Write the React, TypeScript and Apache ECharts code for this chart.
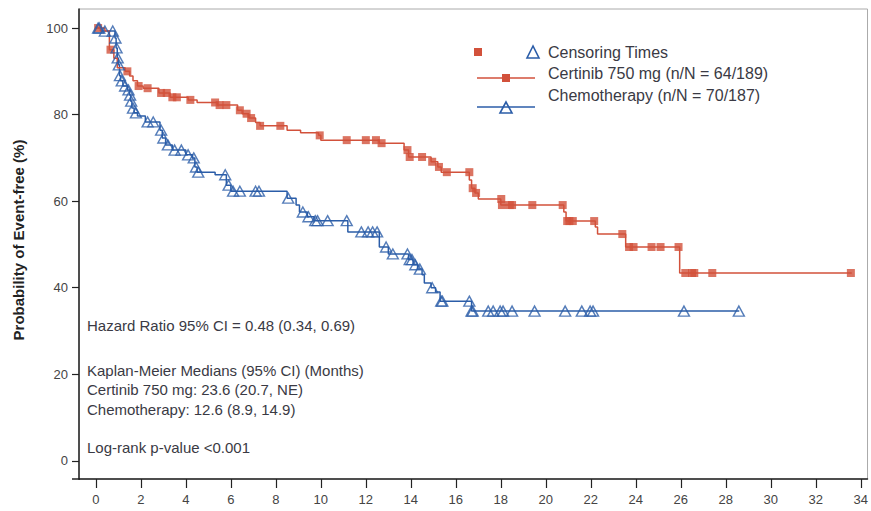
import React, { useEffect, useRef } from "react";
import * as echarts from "echarts";

// Kaplan-Meier step knots: [months, survival %] (value after the step)
const certinibSteps: [number, number][] = [
  [0, 100], [0.4, 99.3], [0.6, 95], [0.8, 93], [0.95, 90.8], [1.3, 90], [1.5, 88.9],
  [1.65, 87.8], [1.85, 86.6], [2.1, 86.1], [2.8, 85.0], [3.3, 84.0], [4.1, 83.4],
  [4.5, 82.8], [5.4, 82.2], [6.3, 81], [6.5, 80.2], [6.8, 79.2], [7.1, 78.2], [7.3, 77.4],
  [8.5, 76.4], [9.1, 75.8], [9.9, 75.2], [10.0, 74.1], [12.6, 73.4], [13.7, 71.8],
  [13.9, 70.2], [14.9, 69.1], [15.2, 67.9], [15.35, 66.7], [16.6, 64.9], [16.7, 63],
  [16.85, 61.9], [17.0, 60.5], [18.0, 59.1], [20.8, 57.5], [20.9, 55.4], [22.2, 54],
  [22.3, 52.4], [23.55, 49.4], [25.95, 43.4], [33.6, 43.4],
];

const chemoSteps: [number, number][] = [
  [0, 100], [0.2, 99.3], [0.85, 97.7], [0.9, 95.4], [0.95, 93.1], [1.0, 91.5], [1.05, 89],
  [1.1, 87.8], [1.2, 86.6], [1.4, 85.7], [1.5, 84.5], [1.55, 83.1], [1.6, 81.5], [1.7, 80.4],
  [1.85, 79.7], [2.2, 78.3], [2.85, 76.4], [2.95, 74.6], [3.1, 73], [3.4, 71.8], [4.0, 70.7],
  [4.3, 70.0], [4.4, 67.9], [4.5, 66.7], [5.3, 66.1], [5.8, 63.7], [6.0, 62.3], [8.5, 60.7],
  [8.9, 59.1], [9.05, 57.5], [9.4, 56.4], [9.7, 55.5], [11.2, 52.9], [12.6, 49.4],
  [13.0, 47.8], [13.9, 46.5], [14.1, 45.3], [14.3, 44.3], [14.5, 43], [14.6, 41.1],
  [14.9, 40.0], [15.1, 39.0], [15.3, 36.9], [16.7, 34.6], [28.6, 34.6],
];

// Censoring marks: [months, survival %]
const certinibCensored: [number, number][] = [
  [0.1, 100], [0.65, 95], [1.4, 90], [1.9, 86.6], [2.3, 86.1], [2.9, 85.0], [3.15, 85.0],
  [3.4, 84.0], [3.6, 84.0], [4.2, 83.4], [5.3, 82.8], [5.5, 82.2], [5.8, 82.2], [6.4, 81],
  [6.7, 80.2], [6.9, 79.2], [7.3, 77.4], [8.2, 77.4], [9.95, 75.2], [11.15, 74.1],
  [12.0, 74.1], [12.45, 74.1], [12.7, 73.4], [13.85, 71.8], [13.95, 70.2], [14.5, 70.2],
  [14.95, 69.1], [15.25, 67.9], [15.6, 66.7], [16.6, 66.7], [16.75, 63], [16.9, 61.9],
  [18.02, 60.5], [18.05, 59.1], [18.4, 59.1], [18.5, 59.1], [19.4, 59.1], [20.75, 59.1],
  [20.95, 55.4], [21.05, 55.4], [21.2, 55.4], [22.15, 55.4], [23.4, 52.4], [23.7, 49.4],
  [23.9, 49.4], [24.7, 49.4], [25.1, 49.4], [25.9, 49.4], [26.2, 43.4], [26.5, 43.4],
  [26.6, 43.4], [27.4, 43.4], [33.56, 43.4],
];

const chemoCensored: [number, number][] = [
  [0.1, 100], [0.15, 100], [0.4, 99.3], [0.75, 99.3], [0.87, 97.7], [0.92, 95.4],
  [0.97, 93.1], [1.02, 91.5], [1.07, 89], [1.15, 87.8], [1.3, 86.6], [1.45, 85.7],
  [1.52, 84.5], [1.57, 83.1], [1.65, 81.5], [1.78, 80.4], [2.3, 78.3], [2.55, 78.3],
  [2.9, 76.4], [3.0, 74.6], [3.2, 73], [3.5, 71.8], [3.8, 71.8], [4.1, 70.7], [4.35, 70.0],
  [4.45, 67.9], [4.55, 66.7], [5.75, 66.1], [5.9, 63.7], [6.1, 62.3], [6.4, 62.3],
  [7.1, 62.3], [7.25, 62.3], [8.55, 60.7], [9.2, 57.5], [9.45, 56.4], [9.75, 55.5],
  [9.85, 55.5], [10.3, 55.5], [11.15, 55.5], [11.8, 52.9], [12.1, 52.9], [12.3, 52.9],
  [12.5, 52.9], [12.9, 49.4], [13.2, 47.8], [13.85, 47.8], [13.95, 46.5], [14.05, 46.5],
  [14.2, 45.3], [14.4, 44.3], [14.95, 40.0], [15.35, 36.9], [15.4, 36.9], [16.6, 36.9],
  [16.7, 34.6], [16.75, 34.6], [17.44, 34.6], [17.66, 34.6], [17.97, 34.6], [18.1, 34.6],
  [18.5, 34.6], [19.5, 34.6], [20.86, 34.6], [21.6, 34.6], [21.97, 34.6], [22.1, 34.6],
  [26.14, 34.6], [28.58, 34.6],
];

const xTicks = [0, 2, 4, 6, 8, 10, 12, 14, 16, 18, 20, 22, 24, 26, 28, 30, 32, 34];
const yTicks = [0, 20, 40, 60, 80, 100];

const legendLabels = [
  "Censoring Times",
  "Certinib 750 mg (n/N = 64/189)",
  "Chemotherapy (n/N = 70/187)",
];
const annotationLines = [
  "Hazard Ratio 95% CI = 0.48 (0.34, 0.69)",
  "Kaplan-Meier Medians (95% CI) (Months)",
  "Certinib 750 mg: 23.6 (20.7, NE)",
  "Chemotherapy: 12.6 (8.9, 14.9)",
  "Log-rank p-value <0.001",
];
const yAxisTitle = "Probability of Event-free (%)";

const RED = "#D2513B";
const BLUE = "#2B5DA8";
const TEXT = "#3a3a44";
const FONT = "'Liberation Sans', Arial, sans-serif";

export default function App() {
  const ref = useRef<HTMLDivElement>(null);
  useEffect(() => {
    if (!ref.current) return;
    const chart = echarts.init(ref.current, null, { renderer: "svg" });
    const annY = [325, 370, 389, 409, 447];
    const graphic: any[] = [
      {
        type: "text",
        x: 18,
        y: 240,
        rotation: Math.PI / 2,
        style: {
          text: yAxisTitle,
          fill: "#222",
          font: `bold 15px ${FONT}`,
          align: "center",
          verticalAlign: "middle",
        },
      },
      // short extension of the x-axis line left of the y-axis
      { type: "line", shape: { x1: 72, y1: 479, x2: 80, y2: 479 }, style: { stroke: "#222", lineWidth: 1.5 } },
      ...annotationLines.map((t, i) => ({
        type: "text",
        x: 87,
        y: annY[i],
        style: { text: t, fill: TEXT, font: `15px ${FONT}`, align: "left", verticalAlign: "middle" },
      })),
      // legend
      { type: "rect", shape: { x: 474, y: 48, width: 8, height: 8 }, style: { fill: RED } },
      {
        type: "polygon",
        shape: { points: [[533, 46], [527, 58], [539, 58]] },
        style: { fill: "none", stroke: BLUE, lineWidth: 1.6 },
      },
      { type: "line", shape: { x1: 477, y1: 78, x2: 535, y2: 78 }, style: { stroke: RED, lineWidth: 1.5 } },
      { type: "rect", shape: { x: 502, y: 74, width: 8, height: 8 }, style: { fill: RED } },
      { type: "line", shape: { x1: 477, y1: 107, x2: 535, y2: 107 }, style: { stroke: BLUE, lineWidth: 1.5 } },
      {
        type: "polygon",
        shape: { points: [[506, 102], [500, 113], [512, 113]] },
        style: { fill: "none", stroke: BLUE, lineWidth: 1.6 },
      },
      ...legendLabels.map((t, i) => ({
        type: "text",
        x: 548,
        y: [52, 73, 95][i],
        style: { text: t, fill: TEXT, font: `16px ${FONT}`, align: "left", verticalAlign: "middle" },
      })),
    ];

    chart.setOption({
      animation: false,
      grid: {
        left: 79,
        top: 9,
        right: 3,
        bottom: 32,
        show: true,
        borderColor: "#aaa",
        borderWidth: 1,
      },
      xAxis: {
        type: "value",
        min: -0.75,
        max: 34.3,
        axisLine: { show: true, onZero: false, lineStyle: { color: "#222", width: 1.5 } },
        axisTick: { show: true, length: 9, customValues: xTicks, lineStyle: { color: "#222", width: 1.2 } },
        axisLabel: { customValues: xTicks, color: "#444", fontSize: 13, margin: 14, fontFamily: FONT },
        splitLine: { show: false },
      },
      yAxis: {
        type: "value",
        min: -4.2,
        max: 104.4,
        axisLine: { show: true, onZero: false, lineStyle: { color: "#222", width: 1.5 } },
        axisTick: { show: true, length: 7, customValues: yTicks, lineStyle: { color: "#222", width: 1.2 } },
        axisLabel: { customValues: yTicks, color: "#444", fontSize: 13, margin: 11, fontFamily: FONT },
        splitLine: { show: false },
      },
      series: [
        {
          type: "line",
          data: chemoSteps,
          step: "end",
          showSymbol: false,
          symbol: "none",
          lineStyle: { color: BLUE, width: 1.5 },
          z: 2,
        },
        {
          type: "line",
          data: certinibSteps,
          step: "end",
          showSymbol: false,
          symbol: "none",
          lineStyle: { color: RED, width: 1.5 },
          z: 2,
        },
        {
          type: "scatter",
          data: certinibCensored,
          symbol: "rect",
          symbolSize: 8,
          itemStyle: { color: RED },
          z: 3,
        },
        {
          type: "scatter",
          data: chemoCensored,
          symbol: "triangle",
          symbolSize: [11, 10],
          itemStyle: { color: "rgba(255,255,255,0)", borderColor: BLUE, borderWidth: 1.4 },
          z: 4,
        },
      ],
      graphic,
    });
    return () => chart.dispose();
  }, []);
  return (
    <div
      ref={ref}
      style={{ position: "fixed", left: 0, top: 0, width: 871, height: 511, background: "#fff" }}
    />
  );
}
